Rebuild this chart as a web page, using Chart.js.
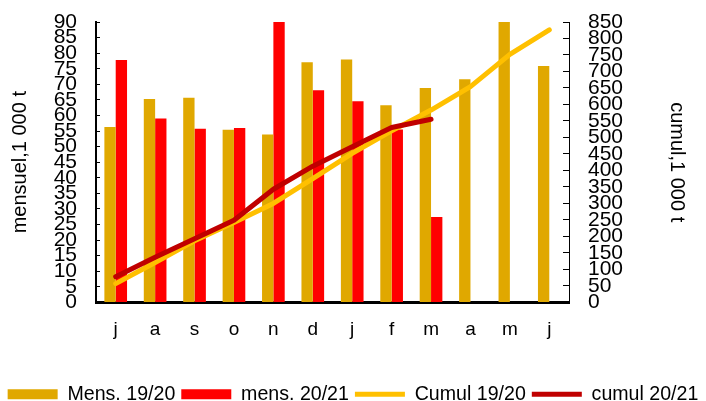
<!DOCTYPE html>
<html>
<head>
<meta charset="utf-8">
<script src="https://cdn.jsdelivr.net/npm/chart.js@4"></script>
<style>
  html, body { margin: 0; padding: 0; background: #fff; }
</style>
</head>
<body>
<canvas id="chart" width="706" height="401"></canvas>
<script>
const months = ['j', 'a', 's', 'o', 'n', 'd', 'j', 'f', 'm', 'a', 'm', 'j'];
const mens1920 = [56.3, 65.3, 65.7, 55.4, 53.9, 77.1, 78.0, 63.3, 68.8, 71.6, 90, 75.9];
const mens2021 = [77.8, 59.0, 55.7, 56.0, 90, 68.1, 64.6, 55.5, 27.4, null, null, null];
const cumul1920 = [57, 121, 187, 242, 300, 375, 452, 520, 583, 654, 752, 826];
const cumul2021 = [78, 137, 193, 249, 343, 413, 472, 530, 555, null, null, null];

Chart.defaults.font.family = '"Liberation Sans", Arial, sans-serif';
Chart.defaults.color = '#000';

// fixed sizes for the side scales; tick padding would otherwise push the plot down
function sideFit(width) {
    return s => {
        s.width = width;
        s.paddingTop = 22;
        s.paddingBottom = 10;
    };
}

new Chart(document.getElementById('chart'), {
    type: 'bar',
    data: {
        labels: months,
        datasets: [
            { label: 'Mens. 19/20', data: mens1920, backgroundColor: '#E0A800', yAxisID: 'y', order: 2,
              pointStyle: 'rect' },
            { label: 'mens. 20/21', data: mens2021, backgroundColor: '#FF0000', yAxisID: 'y', order: 3,
              pointStyle: 'rect' },
            { type: 'line', label: 'Cumul 19/20', data: cumul1920, borderColor: '#FFC000', backgroundColor: '#FFC000',
              borderWidth: 5, pointRadius: 0, borderCapStyle: 'round', borderJoinStyle: 'round',
              yAxisID: 'y1', order: 1, pointStyle: 'line' },
            { type: 'line', label: 'cumul 20/21', data: cumul2021, borderColor: '#C00000', backgroundColor: '#C00000',
              borderWidth: 5, pointRadius: 0, borderCapStyle: 'round', borderJoinStyle: 'round',
              yAxisID: 'y1', order: 0, pointStyle: 'line' }
        ]
    },
    options: {
        responsive: false,
        animation: false,
        layout: { padding: { top: 0, right: 0, left: 0, bottom: -13 } },
        datasets: { bar: { categoryPercentage: 0.575, barPercentage: 1 } },
        plugins: {
            tooltip: { enabled: false },
            legend: {
                position: 'bottom',
                labels: {
                    usePointStyle: true,
                    pointStyleWidth: 50,
                    boxHeight: 10,
                    padding: 6,
                    font: { size: 19.6 },
                    sort: (a, b) => a.datasetIndex - b.datasetIndex
                }
            }
        },
        scales: {
            x: {
                grid: { display: false },
                border: { display: true, color: '#000', width: 3 },
                ticks: { font: { size: 19 }, padding: 8 },
                afterFit: s => { s.height = 76; }
            },
            y: {
                position: 'left',
                min: 0, max: 90,
                grid: { drawOnChartArea: false, color: '#000', tickLength: -4, lineWidth: 1 },
                border: { display: true, color: '#000', width: 2 },
                ticks: { stepSize: 5, font: { size: 21 }, padding: 23, autoSkip: false },
                title: { display: true, text: 'mensuel,1 000 t', font: { size: 20 }, padding: 8 },
                afterFit: sideFit(96)
            },
            y1: {
                position: 'right',
                min: 0, max: 850,
                grid: { drawOnChartArea: false, color: '#000', tickLength: -6, lineWidth: 1 },
                border: { display: true, color: '#000', width: 1 },
                ticks: { stepSize: 50, font: { size: 21 }, padding: 25, autoSkip: false },
                title: { display: true, text: 'cumul,1 000 t', font: { size: 20 }, padding: 17 },
                afterFit: sideFit(137)
            }
        }
    }
});
</script>
</body>
</html>
